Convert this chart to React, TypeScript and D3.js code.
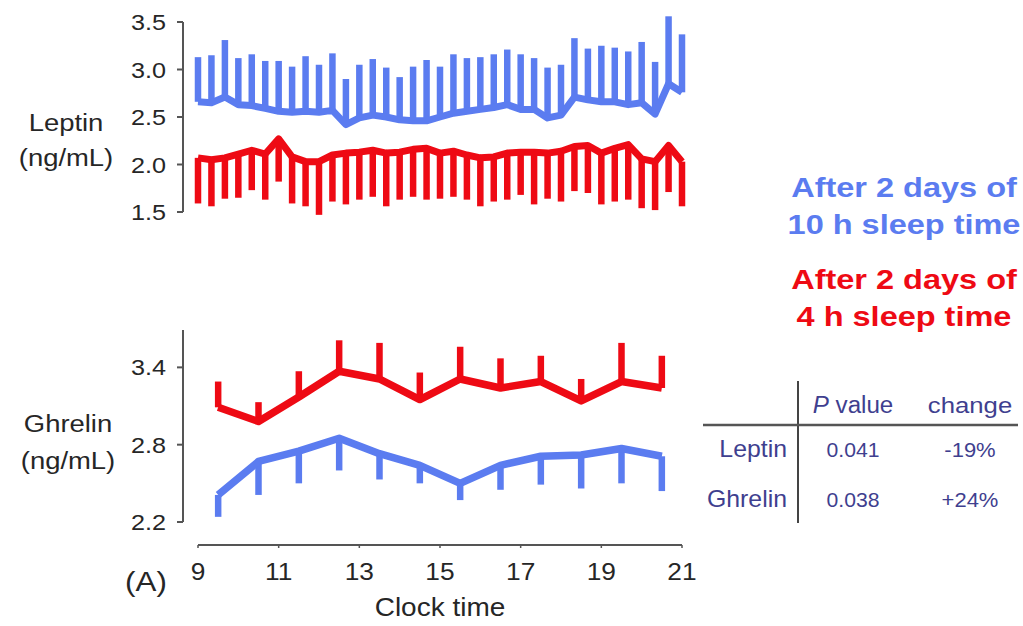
import React from "react";
import * as d3 from "d3";

// ---- Data ----
const leptinTimes = [
  9, 9.333, 9.667, 10, 10.333, 10.667, 11, 11.333, 11.667, 12, 12.333, 12.667,
  13, 13.333, 13.667, 14, 14.333, 14.667, 15, 15.333, 15.667, 16, 16.333, 16.667,
  17, 17.333, 17.667, 18, 18.333, 18.667, 19, 19.333, 19.667, 20, 20.333, 20.667, 21,
];
const leptin10hMean = [
  2.66, 2.65, 2.71, 2.63, 2.62, 2.59, 2.56, 2.55, 2.56, 2.55, 2.57, 2.42, 2.49,
  2.52, 2.5, 2.47, 2.46, 2.46, 2.5, 2.54, 2.56, 2.58, 2.6, 2.63, 2.58, 2.58, 2.49,
  2.52, 2.71, 2.68, 2.66, 2.66, 2.63, 2.65, 2.53, 2.85, 2.76,
];
const leptin10hUpper = [
  3.13, 3.15, 3.31, 3.12, 3.16, 3.09, 3.09, 3.03, 3.14, 3.05, 3.17, 2.9, 3.05,
  3.11, 3.02, 2.92, 3.03, 3.1, 3.03, 3.16, 3.12, 3.13, 3.16, 3.21, 3.16, 3.12,
  3.02, 3.05, 3.33, 3.22, 3.25, 3.23, 3.19, 3.29, 3.08, 3.56, 3.37,
];
const leptin4hMean = [
  2.07, 2.05, 2.07, 2.11, 2.15, 2.11, 2.27, 2.08, 2.03, 2.03, 2.1, 2.12, 2.13,
  2.15, 2.12, 2.13, 2.16, 2.17, 2.12, 2.14, 2.1, 2.07, 2.08, 2.12, 2.13, 2.13,
  2.12, 2.14, 2.19, 2.2, 2.12, 2.17, 2.21, 2.06, 2.03, 2.2, 2.03,
];
const leptin4hLower = [
  1.59, 1.56, 1.64, 1.65, 1.73, 1.63, 1.82, 1.59, 1.56, 1.47, 1.61, 1.58, 1.63,
  1.66, 1.56, 1.63, 1.66, 1.63, 1.64, 1.66, 1.63, 1.56, 1.61, 1.63, 1.68, 1.58,
  1.64, 1.61, 1.72, 1.7, 1.58, 1.61, 1.63, 1.54, 1.52, 1.71, 1.56,
];

const ghrelinTimes = [9.5, 10.5, 11.5, 12.5, 13.5, 14.5, 15.5, 16.5, 17.5, 18.5, 19.5, 20.5];
const ghrelin4hMean = [3.09, 2.98, 3.17, 3.37, 3.31, 3.15, 3.31, 3.24, 3.29, 3.14, 3.29, 3.24];
const ghrelin4hUpper = [3.29, 3.13, 3.37, 3.61, 3.59, 3.36, 3.56, 3.47, 3.49, 3.31, 3.59, 3.49];
const ghrelin10hMean = [2.41, 2.67, 2.75, 2.85, 2.73, 2.64, 2.5, 2.64, 2.71, 2.72, 2.77, 2.71];
const ghrelin10hLower = [2.24, 2.41, 2.5, 2.6, 2.53, 2.5, 2.37, 2.45, 2.49, 2.46, 2.5, 2.44];

const leptinTicks = [1.5, 2.0, 2.5, 3.0, 3.5];
const ghrelinTicks = [2.2, 2.8, 3.4];
const timeTicks = [9, 11, 13, 15, 17, 19, 21];

const legendLines10h = ["After 2 days of", "10 h sleep time"];
const legendLines4h = ["After 2 days of", "4 h sleep time"];
const tableHeader = ["value", "change"];
const tableRows = [
  { name: "Leptin", p: "0.041", change: "-19%" },
  { name: "Ghrelin", p: "0.038", change: "+24%" },
];

const BLUE = "#5B7CF0";
const RED = "#EE0A14";
const AXIS = "#555";
const TXT = "#262626";
const TABLE_TXT = "#3F3F8F";
const FONT = "'Liberation Sans', Arial, Helvetica, sans-serif";

export default function App() {
  const x = d3.scaleLinear().domain([9, 21]).range([198, 682]);
  const yTop = d3.scaleLinear().domain([1.5, 3.5]).range([212, 22]);
  const yBot = d3.scaleLinear().domain([2.2, 3.69]).range([522, 330]);

  const lineTop = (vals: number[]) =>
    d3.line<number>().x((_, i) => x(leptinTimes[i])).y((v) => yTop(v))(vals) || "";
  const lineBot = (vals: number[]) =>
    d3.line<number>().x((_, i) => x(ghrelinTimes[i])).y((v) => yBot(v))(vals) || "";

  const sx = 1.12;
  const T = (props: any) => {
    const { x: tx, y: ty, children, scale = sx, ...rest } = props;
    return (
      <text transform={`translate(${tx},${ty}) scale(${scale},1)`} {...rest}>
        {children}
      </text>
    );
  };

  return (
    <svg
      width={1023}
      height={626}
      style={{ position: "fixed", left: 0, top: 0, background: "#fff" }}
      fontFamily={FONT}
    >
      {/* ---------- Leptin panel ---------- */}
      <line x1={183} x2={183} y1={yTop(3.5)} y2={yTop(1.5)} stroke={AXIS} strokeWidth={2} />
      {leptinTicks.map((t) => (
        <g key={t}>
          <line x1={177} x2={183} y1={yTop(t)} y2={yTop(t)} stroke={AXIS} strokeWidth={2} />
          <T x={166} y={yTop(t) + 8} fontSize={22.5} textAnchor="end" fill={TXT}>
            {t.toFixed(1)}
          </T>
        </g>
      ))}
      <T x={66} y={131} fontSize={24.5} textAnchor="middle" fill={TXT}>Leptin</T>
      <T x={66} y={166} fontSize={24.5} textAnchor="middle" fill={TXT}>(ng/mL)</T>

      {/* 10 h: mean line with upward bars */}
      {leptinTimes.map((t, i) => (
        <line
          key={"b" + i}
          x1={x(t)}
          x2={x(t)}
          y1={yTop(leptin10hMean[i])}
          y2={yTop(leptin10hUpper[i])}
          stroke={BLUE}
          strokeWidth={6.5}
        />
      ))}
      <path d={lineTop(leptin10hMean)} fill="none" stroke={BLUE} strokeWidth={7} strokeLinejoin="round" />

      {/* 4 h: mean line with downward bars */}
      {leptinTimes.map((t, i) => (
        <line
          key={"r" + i}
          x1={x(t)}
          x2={x(t)}
          y1={yTop(leptin4hMean[i])}
          y2={yTop(leptin4hLower[i])}
          stroke={RED}
          strokeWidth={6.5}
        />
      ))}
      <path d={lineTop(leptin4hMean)} fill="none" stroke={RED} strokeWidth={7} strokeLinejoin="round" />

      {/* ---------- Ghrelin panel ---------- */}
      <line x1={183} x2={183} y1={yBot(3.69)} y2={yBot(2.2)} stroke={AXIS} strokeWidth={2} />
      {ghrelinTicks.map((t) => (
        <g key={t}>
          <line x1={177} x2={183} y1={yBot(t)} y2={yBot(t)} stroke={AXIS} strokeWidth={2} />
          <T x={166} y={yBot(t) + 8} fontSize={22.5} textAnchor="end" fill={TXT}>
            {t.toFixed(1)}
          </T>
        </g>
      ))}
      <T x={68} y={432} fontSize={24.5} textAnchor="middle" fill={TXT}>Ghrelin</T>
      <T x={68} y={469} fontSize={24.5} textAnchor="middle" fill={TXT}>(ng/mL)</T>

      {ghrelinTimes.map((t, i) => (
        <line
          key={"gr" + i}
          x1={x(t)}
          x2={x(t)}
          y1={yBot(ghrelin4hMean[i])}
          y2={yBot(ghrelin4hUpper[i])}
          stroke={RED}
          strokeWidth={6.5}
        />
      ))}
      <path d={lineBot(ghrelin4hMean)} fill="none" stroke={RED} strokeWidth={7.5} strokeLinejoin="round" />

      {ghrelinTimes.map((t, i) => (
        <line
          key={"gb" + i}
          x1={x(t)}
          x2={x(t)}
          y1={yBot(ghrelin10hMean[i])}
          y2={yBot(ghrelin10hLower[i])}
          stroke={BLUE}
          strokeWidth={6.5}
        />
      ))}
      <path d={lineBot(ghrelin10hMean)} fill="none" stroke={BLUE} strokeWidth={7.5} strokeLinejoin="round" />

      {/* ---------- X axis ---------- */}
      <line x1={x(9)} x2={x(21)} y1={545} y2={545} stroke={AXIS} strokeWidth={2} />
      {timeTicks.map((t) => (
        <g key={t}>
          <line x1={x(t)} x2={x(t)} y1={545} y2={548} stroke={AXIS} strokeWidth={1.5} />
          <T x={x(t)} y={580} fontSize={23.5} textAnchor="middle" fill={TXT}>
            {t}
          </T>
        </g>
      ))}
      <T x={440} y={616} fontSize={25} textAnchor="middle" fill={TXT}>Clock time</T>
      <T x={146} y={591} fontSize={28} textAnchor="middle" fill={TXT}>(A)</T>

      {/* ---------- Legend ---------- */}
      {legendLines10h.map((s, i) => (
        <T key={"l1" + i} x={904} y={197 + i * 37} fontSize={28.5} fontWeight="bold" textAnchor="middle" fill={BLUE} scale={1.14}>
          {s}
        </T>
      ))}
      {legendLines4h.map((s, i) => (
        <T key={"l2" + i} x={904} y={289 + i * 37} fontSize={28.5} fontWeight="bold" textAnchor="middle" fill={RED} scale={1.14}>
          {s}
        </T>
      ))}

      {/* ---------- Table ---------- */}
      <line x1={798} x2={798} y1={381} y2={523} stroke="#444" strokeWidth={2} />
      <line x1={703} x2={1018} y1={425} y2={425} stroke="#555" strokeWidth={2.5} />
      <T x={853} y={413} fontSize={23} textAnchor="middle" fill={TABLE_TXT} scale={1.05}>
        <tspan fontStyle="italic">P</tspan>
        <tspan> {tableHeader[0]}</tspan>
      </T>
      <T x={970} y={413} fontSize={23} textAnchor="middle" fill={TABLE_TXT} scale={1.12}>
        {tableHeader[1]}
      </T>
      {tableRows.map((r, i) => (
        <g key={r.name}>
          <T x={787} y={457 + i * 50} fontSize={23} textAnchor="end" fill={TABLE_TXT} scale={1.08}>
            {r.name}
          </T>
          <T x={853} y={457 + i * 50} fontSize={20} textAnchor="middle" fill={TABLE_TXT} scale={1.06}>
            {r.p}
          </T>
          <T x={970} y={457 + i * 50} fontSize={20} textAnchor="middle" fill={TABLE_TXT} scale={1.1}>
            {r.change}
          </T>
        </g>
      ))}
    </svg>
  );
}
